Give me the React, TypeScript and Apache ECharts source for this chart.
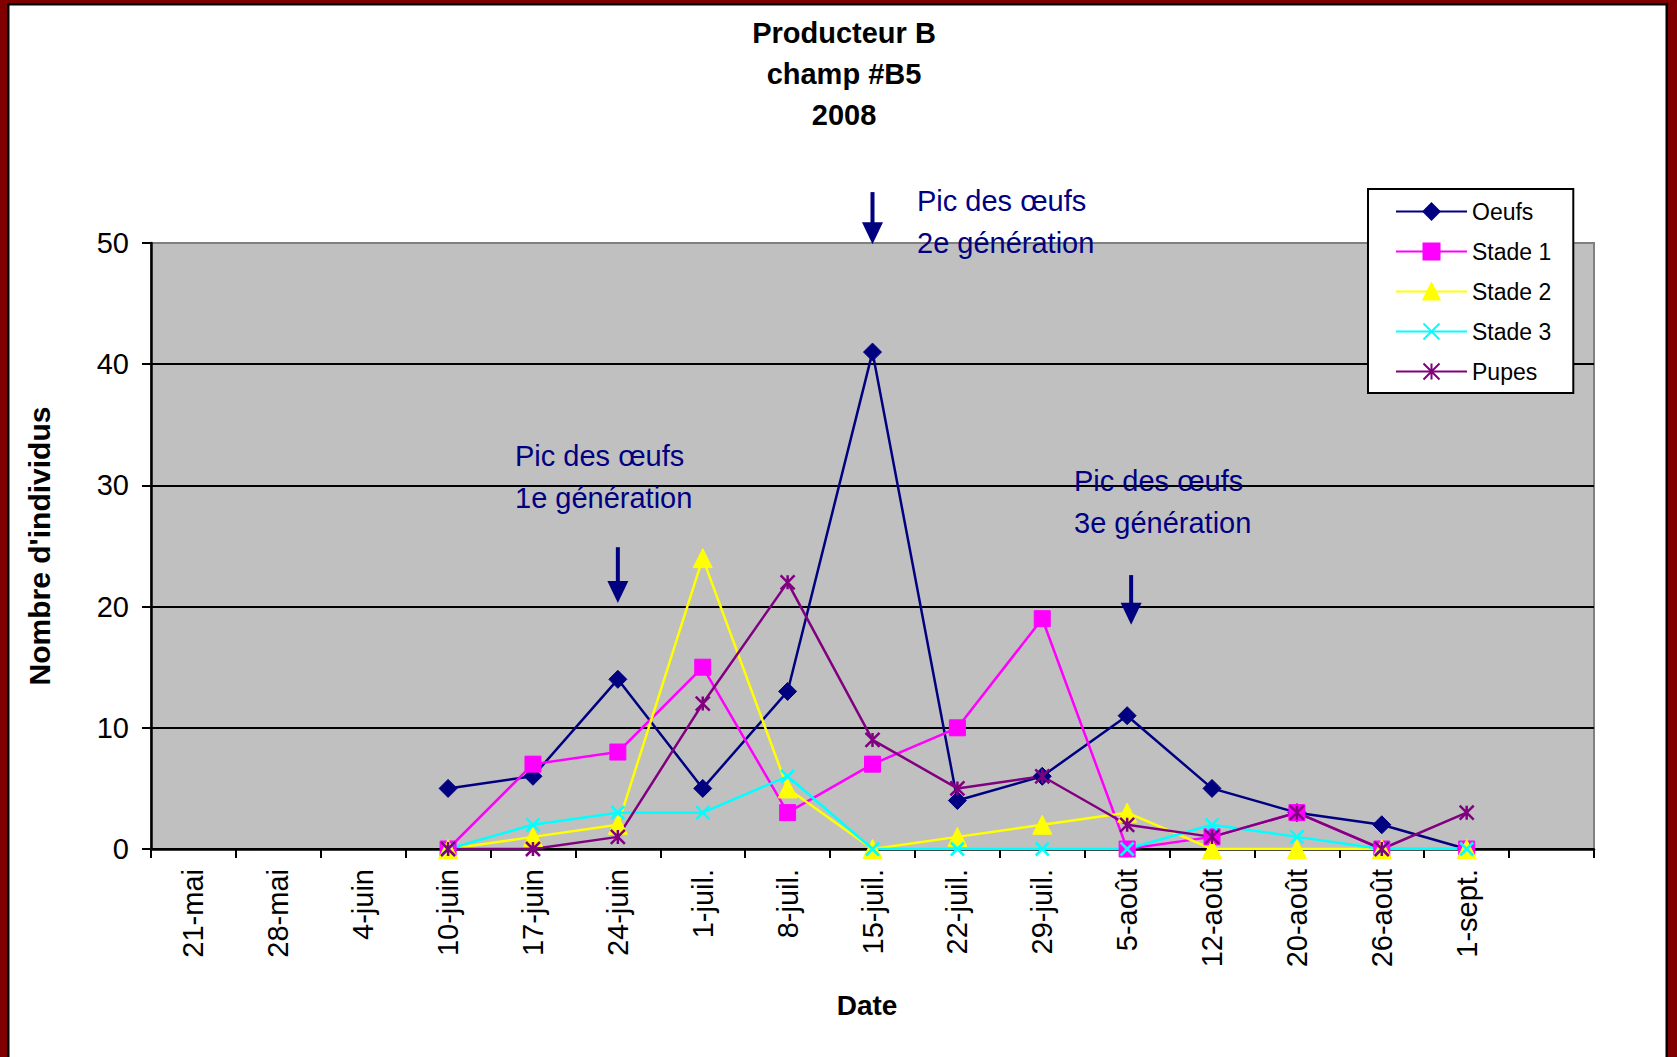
import React, { useEffect, useRef } from 'react';
import * as echarts from 'echarts';

const categories = ['21-mai', '28-mai', '4-juin', '10-juin', '17-juin', '24-juin', '1-juil.', '8-juil.', '15-juil.', '22-juil.', '29-juil.', '5-août', '12-août', '20-août', '26-août', '1-sept.', ''];
const oeufs = [null, null, null, 5, 6, 14, 5, 13, 41, 4, 6, 11, 5, 3, 2, 0, null];
const stade1 = [null, null, null, 0, 7, 8, 15, 3, 7, 10, 19, 0, 1, 3, 0, 0, null];
const stade2 = [null, null, null, 0, 1, 2, 24, 5, 0, 1, 2, 3, 0, 0, 0, 0, null];
const stade3 = [null, null, null, 0, 2, 3, 3, 6, 0, 0, 0, 0, 2, 1, 0, 0, null];
const pupes = [null, null, null, 0, 0, 1, 12, 22, 9, 5, 6, 2, 1, 3, 0, 3, null];
const seriesNames = ['Oeufs', 'Stade 1', 'Stade 2', 'Stade 3', 'Pupes'];
const titleText = 'Producteur B\nchamp #B5\n2008';
const yAxisName = "Nombre d'individus";
const xAxisName = 'Date';

// arrow annotations: category, shaft start value, tip value
const arrowCats = ['24-juin', '15-juil.', '5-août'];
const arrowFrom = [24.9, 54.2, 22.6];
const arrowTo = [20.3, 49.9, 18.5];
const arrowShift = [0, 0, 4];
const noteLines = [
  ['Pic des œufs', '1e génération'],
  ['Pic des œufs', '2e génération'],
  ['Pic des œufs', '3e génération'],
];
const noteLeft = [515, 917, 1074];
const noteTop = [456, 201, 481];

const FONT = '"Liberation Sans", Arial, Helvetica, sans-serif';
const NAVY = '#000080';

export default function App() {
  const ref = useRef<HTMLDivElement>(null);
  useEffect(() => {
    document.body.style.margin = '0';
    const chart = echarts.init(ref.current!, null, { renderer: 'svg' });
    const mk = (name: string, data: any[], color: string, symbol: string, size: number, stroke: boolean) => ({
      name,
      type: 'line',
      data,
      symbol,
      symbolSize: size,
      lineStyle: { color, width: 2.5 },
      itemStyle: { color, borderColor: color, borderWidth: stroke ? 2.5 : 1 },
      emphasis: { disabled: true },
    });
    chart.setOption({
      animation: false,
      backgroundColor: '#ffffff',
      textStyle: { fontFamily: FONT },
      title: {
        text: titleText,
        left: 839,
        textAlign: 'center',
        top: 7,
        textStyle: { fontFamily: FONT, fontSize: 29, fontWeight: 'bold', color: '#000', lineHeight: 41 },
      },
      legend: {
        orient: 'vertical',
        left: 1368,
        top: 189,
        padding: [11, 22, 10, 27],
        itemWidth: 71,
        itemHeight: 20,
        itemGap: 17,
        backgroundColor: '#ffffff',
        borderColor: '#000',
        borderWidth: 2,
        selectedMode: false,
        data: seriesNames,
        textStyle: { fontFamily: FONT, fontSize: 23, color: '#000', lineHeight: 20 },
      },
      grid: {
        left: 151,
        top: 243,
        width: 1443,
        height: 606,
        show: true,
        backgroundColor: '#C0C0C0',
        borderColor: '#808080',
        borderWidth: 2,
      },
      xAxis: {
        type: 'category',
        data: categories,
        boundaryGap: true,
        name: xAxisName,
        nameLocation: 'middle',
        nameGap: 142,
        nameTextStyle: { fontFamily: FONT, fontSize: 28, fontWeight: 'bold', color: '#000', padding: [0, 11, 0, 0] },
        axisLine: { lineStyle: { color: '#000', width: 2.5 } },
        axisTick: { show: true, length: 9, lineStyle: { color: '#000', width: 2 } },
        axisLabel: { interval: 0, rotate: 90, margin: 20, fontFamily: FONT, fontSize: 29, color: '#000' },
        splitLine: { show: false },
      },
      yAxis: {
        type: 'value',
        min: 0,
        max: 50,
        interval: 10,
        name: yAxisName,
        nameLocation: 'middle',
        nameGap: 97,
        nameTextStyle: { fontFamily: FONT, fontSize: 30, fontWeight: 'bold', color: '#000' },
        axisLine: { show: true, lineStyle: { color: '#000', width: 2.5 } },
        axisTick: { show: true, length: 9, lineStyle: { color: '#000', width: 2 } },
        axisLabel: { margin: 22, fontFamily: FONT, fontSize: 29, color: '#000' },
        splitLine: { show: true, lineStyle: { color: ['#000', '#000', '#000', '#000', '#000', '#808080'], width: 2 } },
      },
      series: [
        mk('Oeufs', oeufs, NAVY, 'diamond', 18, false),
        mk('Stade 1', stade1, '#FF00FF', 'rect', 16, false),
        mk('Stade 2', stade2, '#FFFF00', 'triangle', 19, false),
        mk('Stade 3', stade3, '#00FFFF', 'path://M0,0L10,10M10,0L0,10', 13, true),
        mk('Pupes', pupes, '#800080', 'path://M0,0L10,10M10,0L0,10M5,0L5,10', 14, true),
      ],
    });

    const elements: any[] = [];
    arrowCats.forEach((cat, i) => {
      const top = chart.convertToPixel({ gridIndex: 0 }, [cat, arrowFrom[i]]) as number[];
      const tip = chart.convertToPixel({ gridIndex: 0 }, [cat, arrowTo[i]]) as number[];
      const x = top[0] + arrowShift[i];
      const headLen = 22;
      const headHalf = 10.5;
      elements.push({
        type: 'line',
        z: 100,
        shape: { x1: x, y1: top[1], x2: x, y2: tip[1] - headLen + 2 },
        style: { stroke: NAVY, lineWidth: 4 },
      });
      elements.push({
        type: 'polygon',
        z: 100,
        shape: { points: [[x - headHalf, tip[1] - headLen], [x + headHalf, tip[1] - headLen], [x, tip[1]]] },
        style: { fill: NAVY },
      });
      noteLines[i].forEach((t, j) => {
        elements.push({
          type: 'text',
          z: 100,
          x: noteLeft[i],
          y: noteTop[i] + j * 42,
          style: { text: t, fill: NAVY, fontFamily: FONT, fontSize: 29, align: 'left', verticalAlign: 'middle' },
        });
      });
    });
    // outer frame
    elements.push({ type: 'rect', z: 200, shape: { x: 0, y: 0, width: 7, height: 1057 }, style: { fill: '#800000' } });
    elements.push({ type: 'rect', z: 200, shape: { x: 7, y: 3, width: 2.5, height: 1054 }, style: { fill: '#000' } });
    elements.push({ type: 'rect', z: 200, shape: { x: 0, y: 0, width: 1677, height: 3 }, style: { fill: '#800000' } });
    elements.push({ type: 'rect', z: 200, shape: { x: 7, y: 3, width: 1661, height: 2.5 }, style: { fill: '#000' } });
    elements.push({ type: 'rect', z: 200, shape: { x: 1668, y: 0, width: 9, height: 1057 }, style: { fill: '#800000' } });
    elements.push({ type: 'rect', z: 200, shape: { x: 1665.5, y: 3, width: 2.5, height: 1054 }, style: { fill: '#000' } });
    chart.setOption({ graphic: { elements } });

    return () => chart.dispose();
  }, []);
  return <div ref={ref} style={{ width: 1677, height: 1057 }} />;
}
